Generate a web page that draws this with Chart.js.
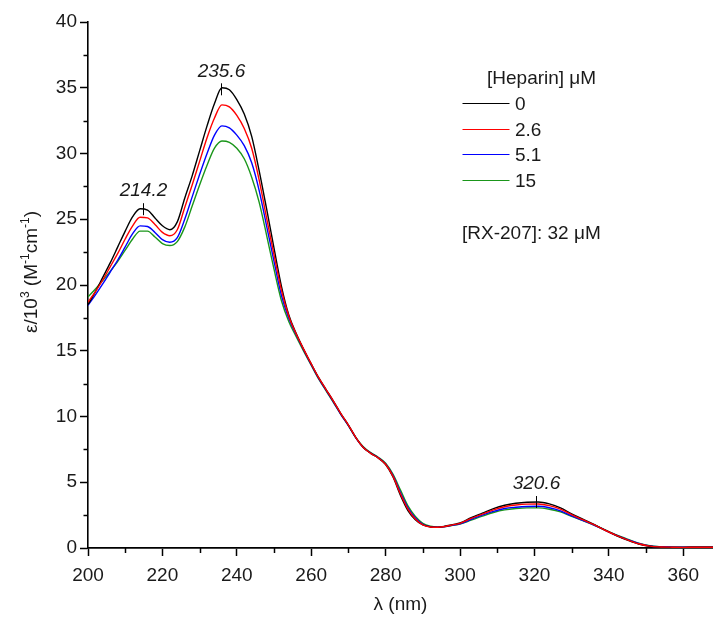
<!DOCTYPE html>
<html>
<head>
<meta charset="utf-8">
<script src="https://cdn.jsdelivr.net/npm/chart.js@4.4.1/dist/chart.umd.min.js"></script>
<style>
  html, body { margin: 0; padding: 0; background: #fff; }
  #wrap { width: 713px; height: 617px; }
</style>
</head>
<body>
<div id="wrap"><canvas id="uv_heparin_chart" width="713" height="617"></canvas></div>
<script>
// wavelength grid (nm)
const wavelength = [200,202,204,206,208,210,212,214,216,218,220,222,224,226,228,230,232,234,236,238,
  240,242,244,246,248,250,252,254,256,258,260,262,264,266,268,270,272,274,276,278,
  280,282,284,286,288,290,292,294,296,298,300,303,306,309,312,315,318,321,324,327,
  330,333,336,339,342,345,348,351,354,357,360,364,368];

// epsilon / 10^3 for each heparin concentration
const eps_0 = [18.5,19.5,20.6,21.7,22.9,24.1,25.2,25.8,25.7,25.1,24.5,24.2,24.8,26.6,28.3,30.2,32.1,33.8,35.0,34.85,
  34.1,33.0,31.3,28.7,25.8,22.8,19.9,17.7,16.3,15.1,14.0,12.95,12.05,11.15,10.2,9.35,8.4,7.65,7.2,6.85,
  6.35,5.4,4.0,2.85,2.15,1.75,1.6,1.57,1.65,1.78,1.9,2.3,2.65,3.0,3.25,3.4,3.48,3.5,3.35,3.05,
  2.6,2.2,1.8,1.35,0.95,0.6,0.3,0.13,0.07,0.05,0.05,0.06,0.06];
const eps_2_6 = [18.7,19.5,20.4,21.4,22.4,23.5,24.5,25.15,25.1,24.6,24.0,23.75,24.2,25.9,27.6,29.4,31.2,32.7,33.7,33.55,
  32.9,31.9,30.4,28.0,25.1,22.3,19.6,17.6,16.25,15.1,14.0,12.95,12.05,11.15,10.2,9.35,8.4,7.65,7.2,6.85,
  6.37,5.45,4.1,2.95,2.2,1.75,1.6,1.58,1.64,1.76,1.87,2.25,2.58,2.9,3.14,3.27,3.34,3.35,3.22,2.95,
  2.53,2.15,1.77,1.35,0.96,0.62,0.32,0.14,0.08,0.06,0.05,0.06,0.06];
const eps_5_1 = [18.45,19.25,20.1,21.0,21.9,22.9,23.9,24.5,24.45,24.0,23.45,23.25,23.6,25.0,26.7,28.4,30.0,31.4,32.1,31.95,
  31.4,30.6,29.3,27.2,24.5,21.8,19.2,17.45,16.2,15.05,13.95,12.9,12.0,11.1,10.15,9.3,8.38,7.65,7.22,6.87,
  6.4,5.5,4.2,3.05,2.28,1.8,1.62,1.58,1.63,1.74,1.84,2.18,2.5,2.78,3.0,3.1,3.16,3.17,3.06,2.83,
  2.45,2.1,1.75,1.35,0.97,0.64,0.34,0.15,0.09,0.07,0.06,0.07,0.07];
const eps_15 = [19.1,19.7,20.35,21.05,21.8,22.65,23.5,24.1,24.1,23.65,23.15,23.0,23.3,24.4,26.0,27.6,29.1,30.4,30.95,30.85,
  30.4,29.6,28.2,26.3,23.8,21.2,18.8,17.2,16.05,14.95,13.9,12.85,11.95,11.05,10.15,9.3,8.4,7.7,7.25,6.9,
  6.45,5.6,4.4,3.2,2.4,1.88,1.66,1.6,1.63,1.72,1.82,2.12,2.42,2.7,2.9,3.0,3.05,3.05,2.95,2.75,
  2.4,2.08,1.75,1.38,1.0,0.68,0.37,0.17,0.1,0.08,0.07,0.08,0.08];

const seriesLabels = ['0', '2.6', '5.1', '15'];
const seriesColors = ['#000000', '#ff0000', '#0000ff', '#1a961a'];
const seriesOrder = [1, 0, 2, 3];

// peak markers (label text, wavelength)
const peakText = ['214.2', '235.6', '320.6'];
const peakPos = [214.7, 235.8, 320.5];

const yMinorTicks = [2.5, 7.5, 12.5, 17.5, 22.5, 27.5, 32.5, 37.5];
const xMinorTicks = [210, 230, 250, 270, 290, 310, 330, 350];

const FONT = "'Liberation Sans', Arial, sans-serif";

function interp(xs, ys, x) {
    for (let i = 0; i < xs.length - 1; i++) {
        if (x >= xs[i] && x <= xs[i + 1]) {
            const t = (x - xs[i]) / (xs[i + 1] - xs[i]);
            return ys[i] + t * (ys[i + 1] - ys[i]);
        }
    }
    return ys[ys.length - 1];
}

const allSeries = [eps_0, eps_2_6, eps_5_1, eps_15];
const datasets = allSeries.map(function(s, i) {
    return {
        label: seriesLabels[i],
        data: wavelength.map(function(w, j) { return { x: w, y: s[j] }; }),
        borderColor: seriesColors[i],
        borderWidth: 1.4,
        pointRadius: 0,
        fill: false,
        cubicInterpolationMode: 'monotone',
        order: seriesOrder[i]
    };
});

const extras = {
    id: 'extras',
    afterDraw: function(chart) {
        const ctx = chart.ctx;
        const xs = chart.scales.x, ys = chart.scales.y;
        const area = chart.chartArea;
        ctx.save();
        ctx.strokeStyle = '#000';
        ctx.lineWidth = 1.5;
        // minor ticks
        yMinorTicks.forEach(function(v) {
            const y = Math.round(ys.getPixelForValue(v)) + 0.5;
            ctx.beginPath();
            ctx.moveTo(area.left - 4.5, y);
            ctx.lineTo(area.left, y);
            ctx.stroke();
        });
        xMinorTicks.forEach(function(v) {
            const x = Math.round(xs.getPixelForValue(v)) + 0.5;
            ctx.beginPath();
            ctx.moveTo(x, area.bottom);
            ctx.lineTo(x, area.bottom + 5);
            ctx.stroke();
        });

        ctx.fillStyle = '#1a1a1a';
        // x title
        ctx.font = '19px ' + FONT;
        ctx.textAlign = 'center';
        ctx.textBaseline = 'alphabetic';
        ctx.fillText('\u03bb (nm)', (area.left + area.right) / 2, 610);

        // y title with superscripts
        const parts = [['\u03b5/10', false], ['3', true], [' (M', false], ['-1', true], ['cm', false], ['-1', true], [')', false]];
        const normal = '19px ' + FONT, small = '12px ' + FONT;
        let total = 0;
        parts.forEach(function(p) { ctx.font = p[1] ? small : normal; total += ctx.measureText(p[0]).width; });
        ctx.translate(37, 272);
        ctx.rotate(-Math.PI / 2);
        ctx.textAlign = 'left';
        let cx = -total / 2;
        parts.forEach(function(p) {
            ctx.font = p[1] ? small : normal;
            ctx.fillText(p[0], cx, p[1] ? -8 : 0);
            cx += ctx.measureText(p[0]).width;
        });
        ctx.setTransform(1, 0, 0, 1, 0, 0);

        // legend
        ctx.font = '19px ' + FONT;
        ctx.textAlign = 'left';
        ctx.textBaseline = 'middle';
        ctx.fillText('[Heparin] \u03bcM', 487, 79);
        seriesLabels.forEach(function(lab, i) {
            const y = Math.round(103 + i * 25.5) + 0.5;
            ctx.strokeStyle = seriesColors[i];
            ctx.lineWidth = 1;
            ctx.beginPath();
            ctx.moveTo(462.5, y);
            ctx.lineTo(509.5, y);
            ctx.stroke();
            ctx.fillText(lab, 515, y + 1);
        });
        ctx.fillText('[RX-207]: 32 \u03bcM', 462, 234);

        // peak annotations
        ctx.strokeStyle = '#000';
        ctx.lineWidth = 1;
        ctx.font = 'italic 19px ' + FONT;
        ctx.textAlign = 'center';
        peakPos.forEach(function(p, i) {
            const px = Math.round(xs.getPixelForValue(p)) + 0.5;
            const py = ys.getPixelForValue(interp(wavelength, eps_0, p));
            ctx.beginPath();
            ctx.moveTo(px, py - 6);
            ctx.lineTo(px, py + 6);
            ctx.stroke();
            ctx.fillText(peakText[i], px, py - 18);
        });
        ctx.restore();
    }
};

const config_uv = {
    type: 'line',
    data: { datasets: datasets },
    options: {
        responsive: false,
        animation: false,
        devicePixelRatio: 1,
        layout: { padding: { top: 22, right: 0, left: 0, bottom: 0 } },
        plugins: { legend: { display: false }, tooltip: { enabled: false } },
        scales: {
            x: {
                type: 'linear',
                min: 200,
                max: 368,
                afterFit: function(scale) { scale.height = 69; },
                ticks: { stepSize: 20, includeBounds: false, padding: 8, color: '#1a1a1a', font: { family: FONT, size: 19 } },
                grid: { drawOnChartArea: false, drawTicks: true, tickLength: 8, tickWidth: 1.5, tickColor: '#000' },
                border: { display: true, color: '#000', width: 1.8 }
            },
            y: {
                min: 0,
                max: 40,
                afterFit: function(scale) { scale.width = 88; },
                ticks: { stepSize: 5, padding: 3, color: '#1a1a1a', font: { family: FONT, size: 19 } },
                grid: { drawOnChartArea: false, drawTicks: true, tickLength: 8, tickWidth: 1.5, tickColor: '#000' },
                border: { display: true, color: '#000', width: 1.6 }
            }
        }
    },
    plugins: [extras]
};

const uv_chart = new Chart(document.getElementById('uv_heparin_chart'), config_uv);
</script>
</body>
</html>
